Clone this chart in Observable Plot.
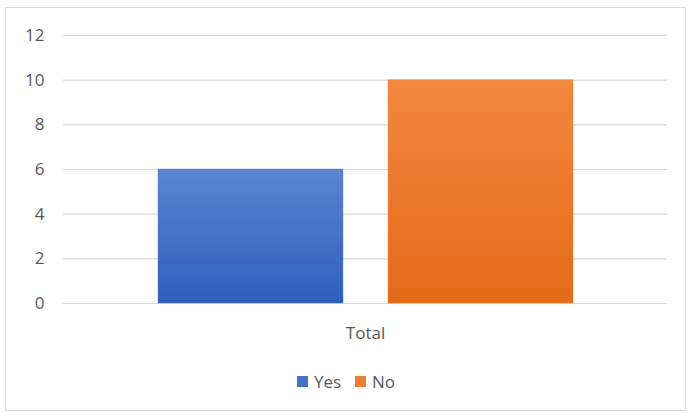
<!DOCTYPE html>
<html>
<head>
<meta charset="utf-8">
<script src="https://cdn.jsdelivr.net/npm/d3@7"></script>
<script src="https://cdn.jsdelivr.net/npm/@observablehq/plot@0.6"></script>
<style>
  html, body { margin: 0; padding: 0; background: #fff; }
  #wrap { position: relative; width: 692px; height: 416px; overflow: hidden; font-family: "Open Sans", sans-serif; }
  #frame { position: absolute; left: 5px; top: 7px; width: 681px; height: 404px; border: 1px solid #d9d9d9; box-sizing: border-box; pointer-events: none; }
  #legend { position: absolute; left: 0; top: 370px; width: 692px; display: flex; justify-content: center; gap: 14px; font-size: 17px; color: #595959; }
  #legend span.item { display: inline-flex; align-items: center; gap: 6px; }
  #legend span.sw { display: inline-block; width: 11px; height: 11px; }
</style>
</head>
<body>
<div id="wrap"><div id="frame"></div><div id="legend"></div></div>
<script>
const categories = ["Total"];
const series = ["Yes", "No"];
const values = [6, 10];
const yTicks = [0, 2, 4, 6, 8, 10, 12];
const colors = ["#4472c4", "#ed7d31"];
const gradIds = ["gYes", "gNo"];

const data = series.map((s, i) => ({group: categories[0], answer: s, value: values[i]}));

const chart = Plot.plot({
  width: 692,
  height: 416,
  marginLeft: 63,
  marginRight: 25,
  marginTop: 35,
  marginBottom: 113,
  style: {fontFamily: "Open Sans, sans-serif", fontSize: "17px", color: "#595959", background: "transparent"},
  fx: {domain: categories, padding: 0, label: null, axis: "bottom", tickSize: 0, tickPadding: 23},
  x: {domain: series, paddingInner: 0.196, paddingOuter: 0.41, axis: null},
  y: {domain: [0, 12], ticks: yTicks, label: null, tickSize: 0, tickPadding: 19, tickFormat: d => String(d)},
  marks: [
    Plot.ruleY(yTicks, {stroke: "#d9d9d9", strokeWidth: 1.2}),
    Plot.barY(data, {fx: "group", x: "answer", y: "value", fill: d => "url(#" + gradIds[series.indexOf(d.answer)] + ")", stroke: d => colors[series.indexOf(d.answer)], strokeOpacity: 0.35, strokeWidth: 1})
  ]
});

// gradient defs
const svg = d3.select(chart);
const defs = svg.insert("defs", ":first-child");
const stops = [["#5b84d1", "#2f5fbc"], ["#f3883f", "#e46a19"]];
gradIds.forEach((id, i) => {
  const g = defs.append("linearGradient").attr("id", id).attr("x1", 0).attr("y1", 0).attr("x2", 0).attr("y2", 1);
  g.append("stop").attr("offset", "0%").attr("stop-color", stops[i][0]);
  g.append("stop").attr("offset", "100%").attr("stop-color", stops[i][1]);
});
svg.selectAll("text").attr("fill", "#595959");

const wrap = document.getElementById("wrap");
wrap.insertBefore(chart, wrap.firstChild);
chart.style.position = "absolute"; chart.style.left = "0"; chart.style.top = "0";

const legend = document.getElementById("legend");
series.forEach((s, i) => {
  const item = document.createElement("span");
  item.className = "item";
  const sw = document.createElement("span");
  sw.className = "sw"; sw.style.background = colors[i];
  item.appendChild(sw);
  item.appendChild(document.createTextNode(s));
  legend.appendChild(item);
});
</script>
</body>
</html>
